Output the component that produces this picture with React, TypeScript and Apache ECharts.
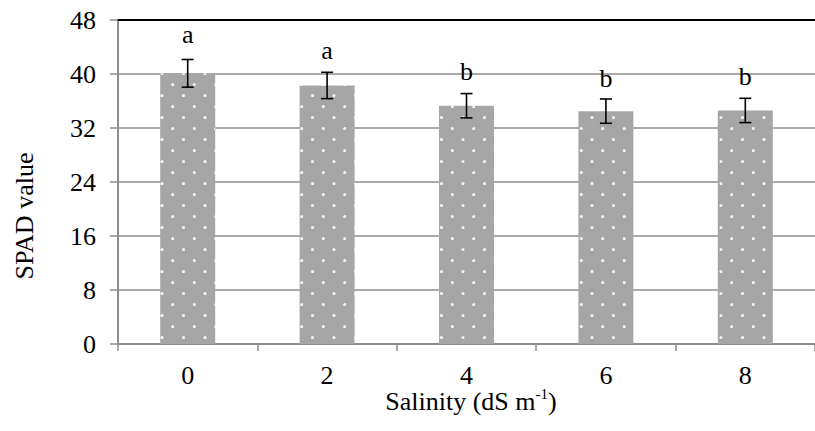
import React, { useEffect, useRef } from "react";
import * as echarts from "echarts";

const categories = ["0", "2", "4", "6", "8"];
const spadValues = [40.1, 38.3, 35.3, 34.5, 34.6];
const errorValues = [2.05, 1.95, 1.8, 1.8, 1.8];
const letters = ["a", "a", "b", "b", "b"];
const letterY = [45.9, 43.5, 40.3, 39.4, 39.6];
const yTicks = { min: 0, max: 48, interval: 8 };
const xTitleParts = ["Salinity (dS m", "-1", ")"];
const yTitle = "SPAD value";

const FONT = "Liberation Serif";

function makePattern(): HTMLCanvasElement {
  const w = 43;
  const h = 44;
  const c = document.createElement("canvas");
  c.width = w;
  c.height = h;
  const ctx = c.getContext("2d")!;
  ctx.fillStyle = "#a6a6a6";
  ctx.fillRect(0, 0, w, h);
  ctx.fillStyle = "#f2f2f2";
  const ox = 19.5 - 8;
  const oy = 7.7;
  for (let r = 0; r < 4; r++) {
    for (let k = -1; k < 3; k++) {
      const x = ox + k * 21.5 + (r % 2 ? 10.75 : 0);
      const y = oy + r * 11;
      for (const dx of [-w, 0, w]) {
        for (const dy of [-h, 0, h]) {
          ctx.beginPath();
          ctx.arc(x + dx, y + dy, 1.4, 0, Math.PI * 2);
          ctx.fill();
        }
      }
    }
  }
  return c;
}

function measure(text: string, size: number): number {
  const c = document.createElement("canvas");
  const ctx = c.getContext("2d")!;
  ctx.font = `${size}px "${FONT}"`;
  return ctx.measureText(text).width;
}

export default function App() {
  const ref = useRef<HTMLDivElement>(null);
  useEffect(() => {
    if (!ref.current) return;
    const chart = echarts.init(ref.current, undefined, { renderer: "svg" });
    const pattern = makePattern();
    const textBase = { fontSize: 26, fontFamily: FONT, fill: "#000" };

    const mainSize = 26;
    const supSize = 15;
    const w1 = measure(xTitleParts[0], mainSize);
    const w2 = measure(xTitleParts[1], supSize);
    const w3 = measure(xTitleParts[2], mainSize);
    const cx = 471;
    const cy = 401;
    const x0 = cx - (w1 + w2 + w3) / 2;

    const option: any = {
      animation: false,
      textStyle: { fontFamily: FONT },
      grid: { left: 118, top: 20, width: 705, height: 324 },
      xAxis: [
        {
          type: "category",
          data: categories,
          boundaryGap: true,
          axisLine: { lineStyle: { color: "#8e8e8e", width: 2 } },
          axisTick: { show: true, length: 7, interval: 0, lineStyle: { color: "#8e8e8e", width: 1.5 } },
          axisLabel: { margin: 20, color: "#000", fontSize: 26, lineHeight: 22, fontFamily: FONT },
          splitLine: { show: false },
        },
        {
          type: "category",
          data: categories,
          position: "top",
          axisLine: { lineStyle: { color: "#000", width: 2 } },
          axisTick: { show: false },
          axisLabel: { show: false },
          splitLine: { show: false },
        },
      ],
      yAxis: {
        type: "value",
        min: yTicks.min,
        max: yTicks.max,
        interval: yTicks.interval,
        axisLine: { show: true, lineStyle: { color: "#8e8e8e", width: 2 } },
        axisTick: { show: true, length: 8, lineStyle: { color: "#8e8e8e", width: 1.5 } },
        axisLabel: { margin: 22, color: "#000", fontSize: 26, fontFamily: FONT },
        splitLine: { show: true, lineStyle: { color: "#8e8e8e", width: 1.5 } },
      },
      graphic: [
        {
          type: "text",
          x: x0,
          y: cy,
          style: { ...textBase, fontSize: mainSize, text: xTitleParts[0], align: "left", verticalAlign: "middle" },
        },
        {
          type: "text",
          x: x0 + w1,
          y: cy - 7,
          style: { ...textBase, fontSize: supSize, text: xTitleParts[1], align: "left", verticalAlign: "middle" },
        },
        {
          type: "text",
          x: x0 + w1 + w2,
          y: cy,
          style: { ...textBase, fontSize: mainSize, text: xTitleParts[2], align: "left", verticalAlign: "middle" },
        },
        {
          type: "text",
          x: 24,
          y: 216,
          rotation: Math.PI / 2,
          style: { ...textBase, text: yTitle, align: "center", verticalAlign: "middle" },
        },
      ],
      series: [
        {
          type: "bar",
          data: spadValues,
          barWidth: 55,
          itemStyle: { color: { image: pattern, repeat: "repeat" } },
        },
        {
          type: "custom",
          data: spadValues.map((v, i) => [i, v, errorValues[i]]),
          renderItem: (params: any, api: any) => {
            const i = api.value(0);
            const v = api.value(1);
            const e = api.value(2);
            const top = api.coord([i, v + e]);
            const bot = api.coord([i, v - e]);
            const hw = 6;
            const style = { stroke: "#000", lineWidth: 1.6 };
            return {
              type: "group",
              children: [
                { type: "line", shape: { x1: top[0], y1: top[1], x2: bot[0], y2: bot[1] }, style },
                { type: "line", shape: { x1: top[0] - hw, y1: top[1], x2: top[0] + hw, y2: top[1] }, style },
                { type: "line", shape: { x1: bot[0] - hw, y1: bot[1], x2: bot[0] + hw, y2: bot[1] }, style },
              ],
            };
          },
          z: 5,
        },
        {
          type: "custom",
          data: letterY.map((v, i) => [i, v]),
          renderItem: (params: any, api: any) => {
            const i = api.value(0);
            const p = api.coord([i, api.value(1)]);
            return {
              type: "text",
              x: p[0],
              y: p[1],
              style: {
                ...textBase,
                text: letters[params.dataIndex],
                align: "center",
                verticalAlign: "middle",
              },
            };
          },
          z: 6,
        },
      ],
    };
    chart.setOption(option);
    return () => chart.dispose();
  }, []);
  return (
    <div
      ref={ref}
      style={{ position: "fixed", left: 0, top: 0, width: 815, height: 431, background: "#fff" }}
    />
  );
}
